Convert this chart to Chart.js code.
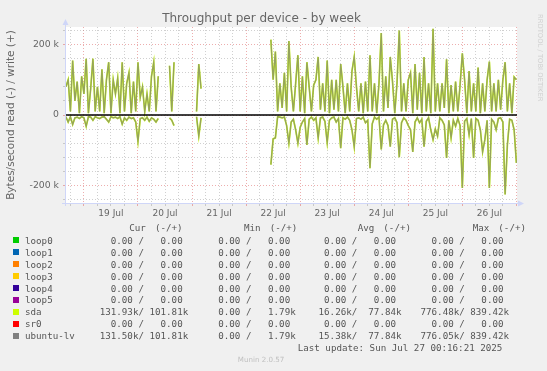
<!DOCTYPE html>
<html>
<head>
<meta charset="utf-8">
<script src="https://cdn.jsdelivr.net/npm/chart.js@4.4.1/dist/chart.umd.min.js"></script>
<style>
    body { margin: 0; background: #f0f0f0; }
    #lienzo { position: relative; width: 547px; height: 371px; overflow: hidden; font-family: 'DejaVu Sans', sans-serif; }
    #lienzo canvas { position: absolute; left: 0; top: 0; }
    .texto { position: absolute; white-space: pre; }
    .titulo { left: 0; width: 523px; top: 12px; text-align: center; font-size: 12px; line-height: 12px; color: #666; }
    .rrd { left: 536px; top: 14px; font-size: 6.8px; color: #d0d0d0; writing-mode: vertical-rl; }
    .mono { font-family: 'DejaVu Sans Mono', monospace; font-size: 9.2px; line-height: 11px; color: #555; }
    .cuadro { position: absolute; width: 6px; height: 6px; }
    .version { left: 0; width: 522px; text-align: center; top: 356px; font-size: 7.1px; line-height: 8px; color: #c0c0c0; }
</style>
</head>
<body>
<div id="lienzo">
    <canvas id="grafico" width="547" height="371"></canvas>
    <div class="texto titulo">Throughput per device - by week</div>
    <div class="texto rrd">RRDTOOL / TOBI OETIKER</div>
    <div id="leyenda"></div>
    <div class="texto version">Munin 2.0.57</div>
</div>
<script>
// ===================================== Datos (kB/s, una muestra por hora desde 18 Jul 16h) ==================
const horaInicio = -8;   // horas respecto de 19 Jul 00:00

const escrituraK = [
    80, 100, 10, 155, 40, 95, 5, 110,                                                       // 18 Jul
    60, 160, 5, 75, 160, 10, 80, 10, 130, 5, 100, 150, 5, 100, 60, 105, 5, 150, 10, 90, 120, 5, 95, 10,   // 19 Jul
    150, 50, 80, 10, 60, 10, 110, 150, 10, 110, null, null, null, null, 140, 10, 150, null, null, null, null, null, null, null, // 20 Jul
    null, null, 10, 145, 75, null, null, null, null, null, null, null, null, null, null, null, null, null, null, null, null, null, null, null, // 21 Jul
    null, null, null, null, null, null, null, null, null, null, null, 214, 100, 180, 10, 90, 20, 120, 10, 210, 80, 10, 90, 170, // 22 Jul
    10, 110, 5, 150, 80, 10, 85, 100, 165, 15, 90, 10, 155, 5, 100, 15, 100, 10, 145, 80, 5, 90, 10, 125,    // 23 Jul
    165, 80, 10, 90, 5, 95, 10, 170, 10, 90, 5, 90, 233, 10, 110, 20, 165, 95, 5, 90, 240, 10, 90, 10,      // 24 Jul
    100, 120, 5, 145, 15, 120, 5, 165, 10, 90, 5, 245, 10, 90, 10, 90, 20, 158, 5, 85, 10, 95, 10, 85,      // 25 Jul
    175, 100, 5, 125, 10, 90, 10, 135, 5, 90, 10, 100, 152, 10, 90, 10, 100, 15, 100, 150, 10, 90, 5, 108,  // 26 Jul
    100                                                                                      // 27 Jul
];

const lecturaK = [
    -5, -20, -5, -27, -8, -6, -10, -5,
    -8, -32, -5, -6, -15, -5, -8, -10, -6, -5, -12, -20, -5, -8, -6, -10, -5, -26, -8, -15, -6, -10, -8, -20,
    -75, -10, -8, -15, -6, -18, -8, -12, -20, -10, null, null, null, null, -8, -15, -30, null, null, null, null, null, null, null,
    null, null, -5, -60, -8, null, null, null, null, null, null, null, null, null, null, null, null, null, null, null, null, null, null, null,
    null, null, null, null, null, null, null, null, null, null, null, -141, -68, -65, -5, -6, -8, -6, -30, -80, -20, -12, -42, -80,
    -35, -20, -10, -85, -12, -6, -15, -8, -65, -8, -6, -18, -78, -15, -8, -6, -20, -10, -94, -8, -12, -6, -15, -42,
    -90, -10, -8, -12, -6, -22, -15, -151, -25, -6, -12, -6, -98, -28, -15, -30, -90, -12, -8, -22, -120, -22, -8, -15,
    -30, -42, -105, -20, -8, -22, -12, -90, -18, -8, -42, -70, -40, -60, -8, -15, -28, -122, -15, -65, -15, -32, -10, -30,
    -207, -18, -10, -56, -10, -122, -10, -15, -42, -105, -70, -15, -207, -12, -20, -42, -10, -8, -20, -226, -85, -12, -15, -42,
    -136
];

const diasEtiquetas = ['19 Jul', '20 Jul', '21 Jul', '22 Jul', '23 Jul', '24 Jul', '25 Jul', '26 Jul'];

// ===================================== Leyenda ==================
const dispositivos = ['loop0', 'loop1', 'loop2', 'loop3', 'loop4', 'loop5', 'sda', 'sr0', 'ubuntu-lv'];
const coloresDispositivos = ['#00cc00', '#0066b3', '#ff8000', '#ffcc00', '#330099', '#990099', '#ccff00', '#ff0000', '#808080'];
const curLectura   = ['0.00', '0.00', '0.00', '0.00', '0.00', '0.00', '131.93k', '0.00', '131.50k'];
const curEscritura = ['0.00', '0.00', '0.00', '0.00', '0.00', '0.00', '101.81k', '0.00', '101.81k'];
const minLectura   = ['0.00', '0.00', '0.00', '0.00', '0.00', '0.00', '0.00', '0.00', '0.00'];
const minEscritura = ['0.00', '0.00', '0.00', '0.00', '0.00', '0.00', '1.79k', '0.00', '1.79k'];
const avgLectura   = ['0.00', '0.00', '0.00', '0.00', '0.00', '0.00', '16.26k', '0.00', '15.38k'];
const avgEscritura = ['0.00', '0.00', '0.00', '0.00', '0.00', '0.00', '77.84k', '0.00', '77.84k'];
const maxLectura   = ['0.00', '0.00', '0.00', '0.00', '0.00', '0.00', '776.48k', '0.00', '776.05k'];
const maxEscritura = ['0.00', '0.00', '0.00', '0.00', '0.00', '0.00', '839.42k', '0.00', '839.42k'];
const ultimaActualizacion = 'Last update: Sun Jul 27 00:16:21 2025';



// ===================================== Arma la leyenda en HTML ==================
function formatoValor(v) {
    return v.endsWith('k') ? v.padStart(7) : (v + ' ').padStart(7);
}

function armarLeyenda() {
    const cont = document.getElementById('leyenda');
    const columnas = [99.7, 207.2, 313, 420.5];
    const encabezados = [['Cur (-/+)', 129.3], ['Min (-/+)', 244], ['Avg (-/+)', 357.7], ['Max (-/+)', 472.7]];
    let html = '';

    encabezados.forEach(e => {
        html += `<div class="texto mono" style="left:${e[1]}px;top:222.4px;word-spacing:3.5px">${e[0]}</div>`;
    });

    dispositivos.forEach((d, i) => {
        const centro = 240 + 11.95 * i;
        const grupos = [
            [curLectura[i], curEscritura[i]],
            [minLectura[i], minEscritura[i]],
            [avgLectura[i], avgEscritura[i]],
            [maxLectura[i], maxEscritura[i]]
        ];
        html += `<div class="cuadro" style="left:13px;top:${centro - 3}px;background:${coloresDispositivos[i]}"></div>`;
        html += `<div class="texto mono" style="left:25px;top:${centro - 5.3}px">${d}</div>`;
        grupos.forEach((g, j) => {
            const txt = formatoValor(g[0]) + '/ ' + formatoValor(g[1]);
            html += `<div class="texto mono" style="left:${columnas[j]}px;top:${centro - 5.3}px">${txt}</div>`;
        });
    });

    html += `<div class="texto mono" style="left:297.7px;top:342.2px">${ultimaActualizacion}</div>`;
    cont.innerHTML = html;
}

armarLeyenda();



// ===================================== Plugin: fondo blanco, línea cero y flechas ==================
const pluginMunin = {
    id: 'pluginMunin',
    beforeDraw(chart) {
        const { ctx, chartArea: a } = chart;
        ctx.save();
        ctx.fillStyle = '#ffffff';
        ctx.fillRect(a.left, a.top, a.right - a.left, a.bottom - a.top);
        ctx.restore();
    },
    afterDatasetsDraw(chart) {
        const { ctx, chartArea: a } = chart;
        const y = Math.round(chart.scales.y.getPixelForValue(0));
        ctx.save();
        ctx.strokeStyle = '#000000';
        ctx.lineWidth = 1.5;
        ctx.beginPath();
        ctx.moveTo(a.left, y);
        ctx.lineTo(a.right, y);
        ctx.stroke();

        // ejes y flechas
        ctx.strokeStyle = '#cfd6f8';
        ctx.fillStyle = '#cfd6f8';
        ctx.lineWidth = 1;
        ctx.beginPath();
        ctx.moveTo(a.left + 0.5, a.bottom + 3);
        ctx.lineTo(a.left + 0.5, a.top - 4);
        ctx.moveTo(a.left - 3, a.bottom + 0.5);
        ctx.lineTo(a.right + 3, a.bottom + 0.5);
        ctx.stroke();
        ctx.beginPath();
        ctx.moveTo(a.left - 2.5, a.top - 2);
        ctx.lineTo(a.left + 3.5, a.top - 2);
        ctx.lineTo(a.left + 0.5, a.top - 8);
        ctx.closePath();
        ctx.fill();
        ctx.beginPath();
        ctx.moveTo(a.right + 1, a.bottom - 2.5);
        ctx.lineTo(a.right + 1, a.bottom + 3.5);
        ctx.lineTo(a.right + 7, a.bottom + 0.5);
        ctx.closePath();
        ctx.fill();
        ctx.restore();
    }
};



// ===================================== Gráfico ==================
function serie(nombre, valores, color, ancho) {
    return {
        label: nombre,
        data: valores.map((v, i) => ({ x: horaInicio + i, y: v })),
        borderColor: color,
        borderWidth: ancho,
        pointRadius: 0,
        tension: 0,
        fill: false,
        spanGaps: false
    };
}

const marcasX = [];
for (let h = -6; h <= 192; h += 6) marcasX.push(h);
const marcasY = [];
for (let v = -240; v <= 240; v += 20) marcasY.push(v);

var chartThroughput = new Chart(document.getElementById('grafico'), {
    type: 'line',
    data: {
        datasets: [
            serie('ubuntu-lv', escrituraK, 'rgba(128,128,128,0.72)', 1.3),
            serie('ubuntu-lv', lecturaK, 'rgba(128,128,128,0.72)', 1.3),
            serie('sda', escrituraK, '#ccff00', 1.7),
            serie('sda', lecturaK, '#ccff00', 1.7)
        ]
    },
    options: {
        responsive: false,
        animation: false,
        events: [],
        layout: { padding: { left: 0, top: 27, right: 30, bottom: 0 } },
        plugins: {
            legend: { display: false },
            tooltip: { enabled: false },
            title: { display: false }
        },
        scales: {
            x: {
                type: 'linear',
                min: -8.4,
                max: 192.27,
                afterFit: s => { s.height = 168; },
                afterBuildTicks: s => { s.ticks = marcasX.map(v => ({ value: v })); },
                grid: {
                    color: c => (c.tick && c.tick.value % 24 === 0) ? 'rgba(225,120,120,0.6)' : 'rgba(150,150,150,0.45)',
                    lineWidth: 1,
                    tickLength: 3
                },
                border: { display: false, dash: [1, 2] },
                ticks: {
                    autoSkip: false,
                    maxRotation: 0,
                    padding: 2,
                    color: '#666',
                    font: { family: 'DejaVu Sans', size: 9 },
                    callback: v => (v % 24 === 12) ? diasEtiquetas[(v - 12) / 24] : ''
                }
            },
            y: {
                min: -250,
                max: 250,
                afterFit: s => { s.width = 65; },
                afterBuildTicks: s => { s.ticks = marcasY.map(v => ({ value: v })); },
                grid: {
                    color: c => (c.tick && c.tick.value % 100 === 0) ? 'rgba(225,120,120,0.6)' : 'rgba(150,150,150,0.45)',
                    lineWidth: 1,
                    tickLength: 2
                },
                border: { display: false, dash: [1, 2] },
                ticks: {
                    padding: 4,
                    color: '#666',
                    font: { family: 'DejaVu Sans', size: 9.3 },
                    callback: v => (v % 100 === 0) ? (v === 0 ? '0' : v + ' k') : ''
                },
                title: {
                    display: true,
                    text: 'Bytes/second read (-) / write (+)',
                    color: '#666',
                    font: { family: 'DejaVu Sans', size: 10.5 },
                    padding: { top: 5, bottom: 0 }
                }
            }
        }
    },
    plugins: [pluginMunin]
});
</script>
</body>
</html>
